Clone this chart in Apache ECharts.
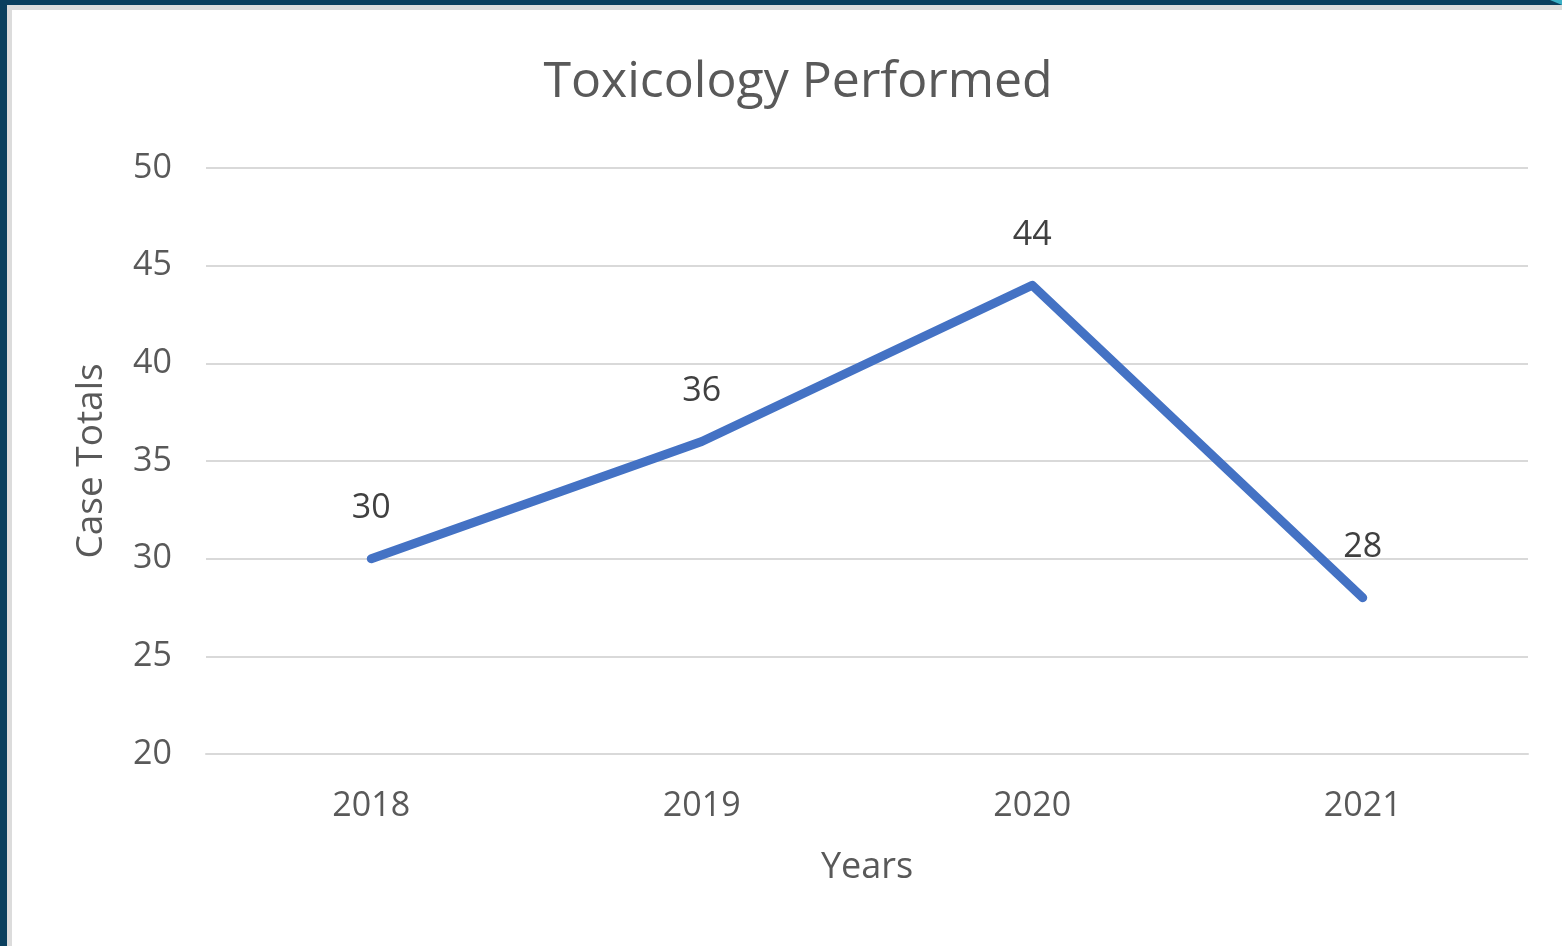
<!DOCTYPE html>
<html>
<head>
<meta charset="utf-8">
<title>Toxicology Performed</title>
<script src="https://cdn.jsdelivr.net/npm/echarts@6/dist/echarts.min.js"></script>
<style>
  html, body { margin: 0; padding: 0; width: 1562px; height: 946px; overflow: hidden; background: #0a3f5e; }
  #frame { position: absolute; left: 7px; top: 5px; width: 1555px; height: 941px; background: #dcdcdc; }
  #chart { position: absolute; left: 12px; top: 10px; width: 1550px; height: 936px; background: #fff; }
  #corner { position: absolute; right: 0; top: 0; width: 0; height: 0;
            border-top: 5px solid #3ab0c6; border-left: 12px solid transparent; }
</style>
</head>
<body>
<div id="frame"></div>
<div id="chart"></div>
<div id="corner"></div>
<script>
// data
var years = ['2018', '2019', '2020', '2021'];
var caseTotals = [30, 36, 44, 28];
var yTicks = [20, 25, 30, 35, 40, 45, 50];

var chart = echarts.init(document.getElementById('chart'));

var textGrey = '#595959';
var font = "'Open Sans', sans-serif";

chart.setOption({
  backgroundColor: '#fff',
  animation: false,
  title: {
    text: 'Toxicology Performed',
    left: 781,
    top: 43,
    textAlign: 'center',
    textStyle: {
      color: textGrey,
      fontFamily: font,
      fontWeight: 'normal',
      fontSize: 50
    }
  },
  grid: {
    left: 194,
    right: 34,
    top: 158,
    bottom: 192
  },
  xAxis: {
    type: 'category',
    data: years,
    boundaryGap: true,
    name: 'Years',
    nameLocation: 'middle',
    nameGap: 96,
    nameTextStyle: { color: textGrey, fontSize: 36, fontFamily: font },
    axisLine: { show: true, lineStyle: { color: '#d9d9d9', width: 2 } },
    axisTick: { show: false },
    axisLabel: { color: textGrey, fontSize: 34, margin: 35, fontFamily: font }
  },
  yAxis: {
    type: 'value',
    min: yTicks[0],
    max: yTicks[yTicks.length - 1],
    interval: 5,
    name: 'Case Totals',
    nameLocation: 'middle',
    nameGap: 96,
    nameTextStyle: { color: textGrey, fontSize: 37, fontFamily: font },
    axisLine: { show: false },
    axisTick: { show: false },
    axisLabel: { color: textGrey, fontSize: 34, margin: 34, fontFamily: font },
    splitLine: { lineStyle: { color: '#d9d9d9', width: 2 } }
  },
  series: [{
    type: 'line',
    data: caseTotals,
    symbol: 'circle',
    symbolSize: 2,
    showSymbol: true,
    itemStyle: { color: 'rgba(68,114,196,0)' },
    lineStyle: { color: '#4472c4', width: 9, cap: 'round', join: 'round' },
    label: {
      show: true,
      position: 'top',
      distance: 32,
      color: '#404040',
      fontSize: 34,
      fontFamily: font
    }
  }]
});
</script>
</body>
</html>
